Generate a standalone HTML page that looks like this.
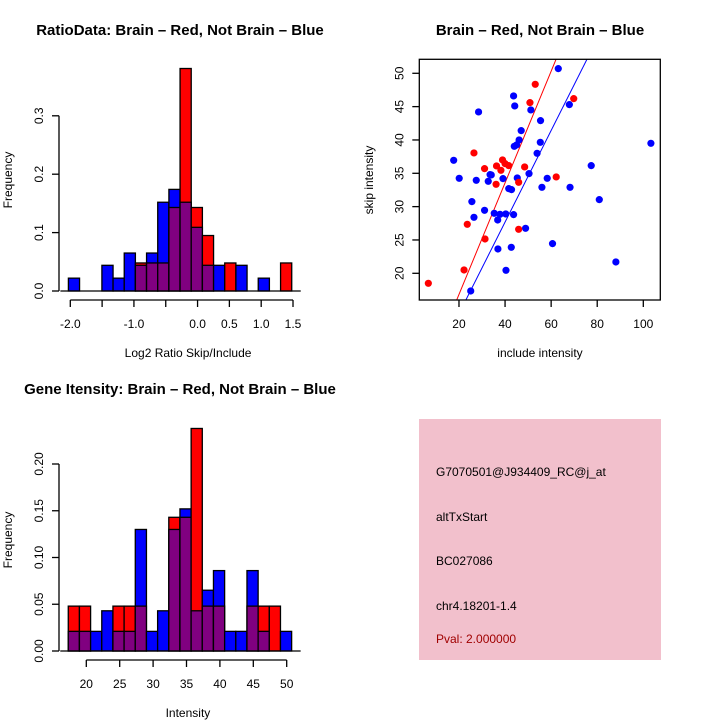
<!DOCTYPE html>
<html><head><meta charset="utf-8"><style>
body{margin:0;background:#fff}
svg{display:block;font-family:"Liberation Sans",sans-serif}
</style></head><body>
<svg id="c" width="720" height="720" viewBox="0 0 720 720">
<rect width="720" height="720" fill="#fff"/>
<text x="180" y="35" font-size="15" font-weight="bold" text-anchor="middle">RatioData: Brain – Red, Not Brain – Blue</text>
<text x="540" y="35" font-size="15" font-weight="bold" text-anchor="middle">Brain – Red, Not Brain – Blue</text>
<text x="180" y="394" font-size="15" font-weight="bold" text-anchor="middle">Gene Itensity: Brain – Red, Not Brain – Blue</text>
<g id="g1"></g>
<g id="g2"></g>
<g id="g3"></g>
<g>
<rect x="419" y="419" width="242" height="241" fill="#f2c0cc"/>
<text x="436" y="476" font-size="12">G7070501@J934409_RC@j_at</text>
<text x="436" y="521" font-size="12">altTxStart</text>
<text x="436" y="565" font-size="12">BC027086</text>
<text x="436" y="610" font-size="12">chr4.18201-1.4</text>
<text x="436" y="643" font-size="12" fill="#a00000">Pval: 2.000000</text>
</g>
</svg>
<script>
// Ratio histogram data
const ratioRed  = [0,0,0,0,0,0,0.048,0.048,0.048,0.143,0.381,0.143,0.095,0,0.048,0,0,0,0,0.048];
const ratioBlue = [0.022,0,0,0.044,0.022,0.065,0.044,0.065,0.152,0.174,0.152,0.109,0.044,0.044,0,0.044,0,0.022,0,0];
const ratioXTicks = [-2.0,-1.5,-1.0,-0.5,0.0,0.5,1.0,1.5];
const ratioXLabels = ["-2.0","","-1.0","","0.0","0.5","1.0","1.5"];
const ratioYTicks = [0,0.1,0.2,0.3];
const ratioYLabels = ["0.0","0.1","0.2","0.3"];
// Intensity histogram data
const intRed  = [0.048,0.048,0,0,0.048,0.048,0.048,0,0,0.143,0.143,0.238,0.048,0.048,0,0,0.048,0.048,0.048,0];
const intBlue = [0.021,0.021,0.021,0.043,0.021,0.021,0.130,0.021,0.043,0.130,0.152,0.043,0.065,0.086,0.021,0.021,0.086,0.021,0,0.021];
const intXTicks = [20,25,30,35,40,45,50];
const intYTicks = [0,0.05,0.10,0.15,0.20];
const intYLabels = ["0.00","0.05","0.10","0.15","0.20"];
// Scatter data
const redX = [6.7,22.2,23.6,31.3,26.5,31.1,36.3,38.2,38.9,40.0,41.6,36.1,45.9,45.9,48.5,50.8,53.1,62.2,69.8];
const redY = [18.5,20.5,27.35,25.15,38.05,35.7,36.1,35.45,37.0,36.45,36.15,33.35,33.65,26.6,35.95,45.6,48.35,34.45,46.2];
const blueX = [17.7,20.1,28.5,27.5,25.6,26.5,31.1,33.5,32.7,34.0,39.1,35.3,36.8,37.8,40.3,43.7,36.9,42.7,40.4,25.1,41.6,42.8,43.7,44.2,44.0,45.0,46.1,47.0,45.3,51.2,50.4,48.9,55.4,55.3,53.9,58.3,56.0,60.6,63.1,67.9,68.2,77.4,80.9,88.1,103.3];
const blueY = [36.95,34.25,44.2,33.95,30.75,28.4,29.45,34.8,33.8,34.75,34.2,29.0,28.0,28.85,28.9,28.8,23.65,23.9,20.45,17.35,32.7,32.55,46.6,45.1,39.05,39.25,40.0,41.4,34.3,44.5,34.95,26.75,42.9,39.65,38.0,34.25,32.9,24.45,50.7,45.3,32.9,36.15,31.05,21.7,39.5];
const redFit = [0.09,0.837];
const blueFit = [0.2,0.687];
const scXTicks = [20,40,60,80,100];
const scYTicks = [20,25,30,35,40,45,50];

const NS="http://www.w3.org/2000/svg";
function mk(p,t,a){const e=document.createElementNS(NS,t);for(const k in a)e.setAttribute(k,a[k]);p.appendChild(e);return e;}

function hist(g,red,blue,x0,bw,sx,sy,xt,xl,yt,yl,axisY,yAxisX,y0v,xlab,xlabY,ylabX,nameP){
  for(let i=0;i<red.length;i++){
    const r=red[i],b=blue[i],xa=sx(x0+i*bw),xb=sx(x0+(i+1)*bw);
    const mx=Math.max(r,b),mn=Math.min(r,b);
    if(mx>0){const e=mk(g,'rect',{x:xa,y:sy(mx),width:xb-xa,height:sy(0)-sy(mx),fill:r>=b?'#ff0000':'#0000ff',stroke:'#000','stroke-width':1.3});
      
      }
    if(mn>0){const e=mk(g,'rect',{x:xa,y:sy(mn),width:xb-xa,height:sy(0)-sy(mn),fill:'#800080',stroke:'#000','stroke-width':1.3});
      
      }
  }
  const base=mk(g,'line',{x1:sx(x0)-8,x2:sx(x0+red.length*bw)+9,y1:sy(0),y2:sy(0),stroke:'#000','stroke-width':1.3});
  
  
  const xa=mk(g,'line',{x1:sx(xt[0]),x2:sx(xt[xt.length-1]),y1:axisY,y2:axisY,stroke:'#000','stroke-width':1.3});
  
  
  xt.forEach((v,i)=>{mk(g,'line',{x1:sx(v),x2:sx(v),y1:axisY,y2:axisY+7,stroke:'#000','stroke-width':1.3});
    if(xl[i]){const t=mk(g,'text',{x:sx(v),y:axisY+28,'font-size':12,'text-anchor':'middle'});t.textContent=xl[i];
      
      }});
  const ya=mk(g,'line',{x1:yAxisX,x2:yAxisX,y1:sy(yt[0]),y2:sy(yt[yt.length-1]),stroke:'#000','stroke-width':1.3});
  
  
  yt.forEach((v,i)=>{mk(g,'line',{x1:yAxisX-7,x2:yAxisX,y1:sy(v),y2:sy(v),stroke:'#000','stroke-width':1.3});
    const t=mk(g,'text',{x:0,y:0,'font-size':12,'text-anchor':'middle',transform:`translate(${yAxisX-16},${sy(v)}) rotate(-90)`});t.textContent=yl[i];
    
    });
  const t1=mk(g,'text',{x:(sx(x0)+sx(x0+red.length*bw))/2+8,y:xlabY,'font-size':12,'text-anchor':'middle'});t1.textContent=xlab;
  
  
  const t2=mk(g,'text',{x:0,y:0,'font-size':12,'text-anchor':'middle',transform:`translate(${ylabX},${y0v}) rotate(-90)`});t2.textContent='Frequency';
  
  
}

// ratio hist
{const sx=v=>70.3+(v+2)*63.63, sy=v=>291-v*584;
 hist(document.getElementById('g1'),ratioRed,ratioBlue,-2.03,0.1755,sx,sy,ratioXTicks,ratioXLabels,ratioYTicks,ratioYLabels,300,59,180,'Log2 Ratio Skip/Include',357,12,'ratio');}
// intensity hist
{const sx=v=>86.3+(v-20)*6.68, sy=v=>651-v*935;
 hist(document.getElementById('g3'),intRed,intBlue,17.3,1.672,sx,sy,intXTicks,intXTicks.map(String),intYTicks,intYLabels,660,59,540,'Intensity',717,12,'intensity');}
// scatter
{const g=document.getElementById('g2');
 const sx=v=>412.9+v*2.304, sy=v=>273.3-(v-20)*6.667;
 const L=419.3,R=660.3,T=59.3,B=300;
 mk(g,'defs',{}).innerHTML='<clipPath id="cp"><rect x="419.3" y="59.3" width="241" height="240.7"/></clipPath>';
 [[redFit,'#ff0000','red-fit-line'],[blueFit,'#0000ff','blue-fit-line']].forEach(([f,c,n])=>{
   const e=mk(g,'line',{x1:sx(0),y1:sy(f[0]),x2:sx(120),y2:sy(f[0]+f[1]*120),stroke:c,'stroke-width':1,'clip-path':'url(#cp)'});
   
   });
 blueX.forEach((x,i)=>{const e=mk(g,'circle',{cx:sx(x),cy:sy(blueY[i]),r:3.6,fill:'#0000ff'});
   
   });
 redX.forEach((x,i)=>{const e=mk(g,'circle',{cx:sx(x),cy:sy(redY[i]),r:3.6,fill:'#ff0000'});
   
   });
 const box=mk(g,'rect',{x:L,y:T,width:R-L,height:B-T,fill:'none',stroke:'#000','stroke-width':1.3});
 
 
 scXTicks.forEach(v=>{mk(g,'line',{x1:sx(v),x2:sx(v),y1:B,y2:B+7,stroke:'#000','stroke-width':1.3});
   const t=mk(g,'text',{x:sx(v),y:B+28,'font-size':12,'text-anchor':'middle'});t.textContent=v;
   
   });
 scYTicks.forEach(v=>{mk(g,'line',{x1:L-7,x2:L,y1:sy(v),y2:sy(v),stroke:'#000','stroke-width':1.3});
   const t=mk(g,'text',{x:0,y:0,'font-size':12,'text-anchor':'middle',transform:`translate(${L-16},${sy(v)}) rotate(-90)`});t.textContent=v;
   
   });
 const xt=mk(g,'text',{x:540,y:357,'font-size':12,'text-anchor':'middle'});xt.textContent='include intensity';
 
 
 const yt=mk(g,'text',{x:0,y:0,'font-size':12,'text-anchor':'middle',transform:'translate(373,180) rotate(-90)'});yt.textContent='skip intensity';
 
 
}
</script>
</body></html>
